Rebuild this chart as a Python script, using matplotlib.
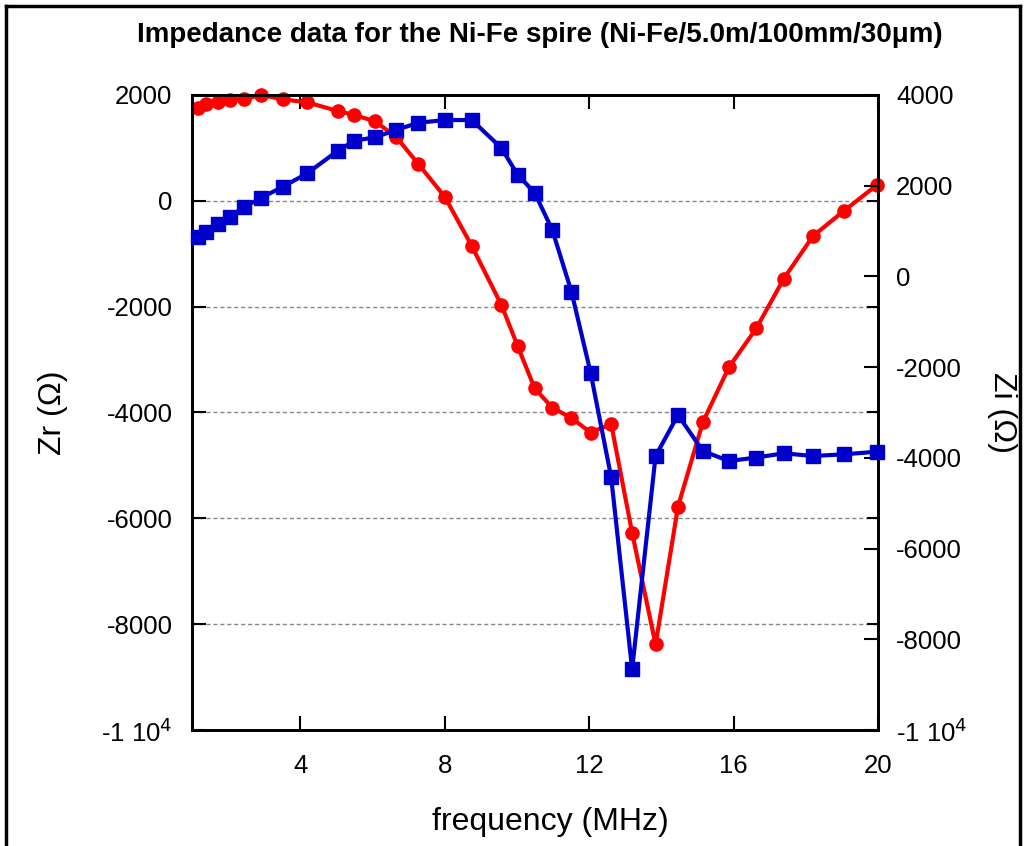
import matplotlib
matplotlib.use("Agg")
import matplotlib.pyplot as plt
from matplotlib import font_manager
from matplotlib.ticker import FixedLocator, FuncFormatter
from matplotlib.lines import Line2D

# frequency points (MHz), shared by both series
freq = [1.17, 1.40, 1.71, 2.05, 2.43, 2.92, 3.52, 4.19, 5.04, 5.50, 6.07, 6.65,
        7.27, 8.0, 8.75, 9.57, 10.02, 10.49, 10.98, 11.51, 12.04, 12.61, 13.19,
        13.84, 14.46, 15.15, 15.87, 16.63, 17.39, 18.20, 19.06, 19.96]

# real part, left axis (red circles)
zr = [1748, 1829, 1867, 1905, 1924, 2000, 1918, 1861, 1697, 1621, 1502, 1211,
      695, 77, -854, -1969, -2744, -3543, -3910, -4104, -4378, -4218, -6272,
      -8384, -5780, -4180, -3146, -2409, -1472, -665, -187, 293]

# imaginary part, right axis (blue squares)
zi = [875, 985, 1155, 1316, 1523, 1735, 1978, 2273, 2771, 2992, 3067, 3228,
      3388, 3448, 3448, 2831, 2242, 1845, 1023, -337, -2123, -4429, -8662,
      -3959, -3056, -3849, -4070, -3993, -3900, -3959, -3922, -3865]

left_ticks = [-10000, -8000, -6000, -4000, -2000, 0, 2000]
right_ticks = [-10000, -8000, -6000, -4000, -2000, 0, 2000, 4000]
x_ticks = [4, 8, 12, 16, 20]

names = {f.name for f in font_manager.fontManager.ttflist}
narrow = "Liberation Sans Narrow" if "Liberation Sans Narrow" in names else "Liberation Sans"
plt.rcParams["font.family"] = [narrow, "DejaVu Sans"]


def fmt(v, pos):
    if v == -10000:
        return "-1 10$^4$"
    return "%d" % v


fig = plt.figure(figsize=(10.26, 8.46), dpi=100)
ax = fig.add_axes([192 / 1026, 1 - 730 / 846, 686 / 1026, 635 / 846])
ax2 = ax.twinx()

ax.plot(freq, zr, color="#ff0000", marker="o", markersize=9.5, linewidth=3,
        clip_on=False, zorder=3)
ax2.plot(freq, zi, color="#0000cc", marker="s", markersize=9.5, linewidth=3,
         clip_on=False, zorder=3)

ax.set_xlim(1, 20)
ax.set_ylim(-10000, 2000)
ax2.set_ylim(-10000, 4000)

ax.xaxis.set_major_locator(FixedLocator(x_ticks))
ax.yaxis.set_major_locator(FixedLocator(left_ticks))
ax2.yaxis.set_major_locator(FixedLocator(right_ticks))
ax.yaxis.set_major_formatter(FuncFormatter(fmt))
ax2.yaxis.set_major_formatter(FuncFormatter(fmt))

ax.tick_params(axis="x", direction="in", length=10, width=1.5, top=True,
               labelsize=18.5, pad=17)
ax.tick_params(axis="y", direction="in", length=10, width=1.5, right=False,
               labelsize=18.5, pad=14)
ax2.tick_params(axis="y", direction="in", length=10, width=1.5, labelsize=18.5, pad=13)

# left-axis ticks mirrored on the right spine
for v in left_ticks[1:-1]:
    ax.plot([1.0, 0.985], [v, v], color="black", linewidth=1.5,
            transform=ax.get_yaxis_transform(), clip_on=False)

for v in [0, -2000, -4000, -6000, -8000]:
    ax.axhline(v, color="#888888", linestyle="--", linewidth=1, dashes=(3, 2), zorder=1)

for s in ax.spines.values():
    s.set_linewidth(2)
for s in ax2.spines.values():
    s.set_linewidth(2)

ax.set_xlabel("frequency (MHz)", fontsize=23)
ax.xaxis.set_label_coords(0.523, -0.145, transform=ax.transAxes)
ax.xaxis.label.set_va("center")
ax.set_ylabel("Zr (Ω)", fontsize=23, labelpad=24)
ax2.set_ylabel("Zi (Ω)", fontsize=23, rotation=270, labelpad=36)
fig.suptitle("Impedance data for the Ni-Fe spire (Ni-Fe/5.0m/100mm/30μm)",
             fontsize=20, fontweight="bold", x=540 / 1026, y=1 - 35 / 846, va="center")

# outer frame
W, H = 1026, 846
for xs, ys in [((6, 1020), (6, 6)), ((6, 6), (6, 846)), ((1020, 1020), (6, 846))]:
    fig.add_artist(Line2D([x / W for x in xs], [1 - y / H for y in ys],
                          color="black", linewidth=2.5))

fig.savefig("out.png", dpi=100)
